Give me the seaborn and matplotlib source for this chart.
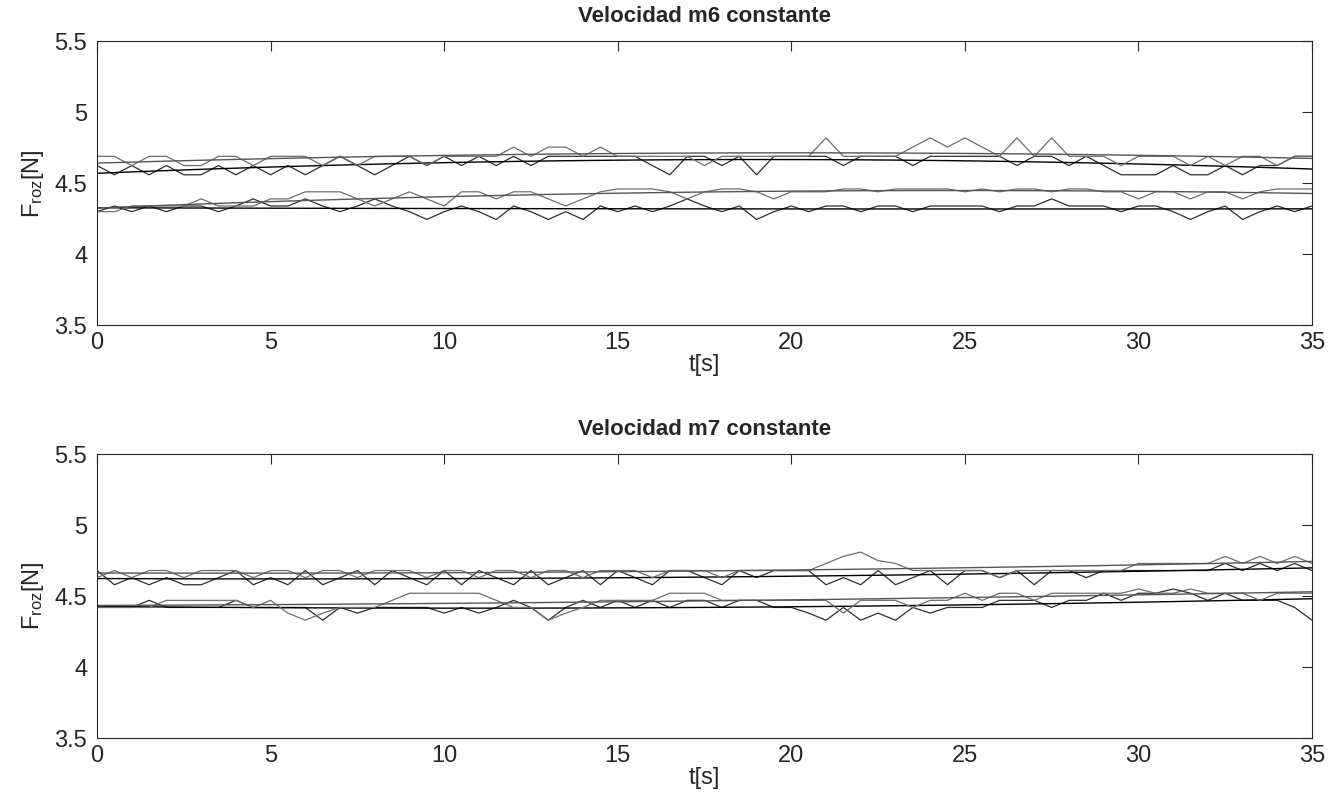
import numpy as np
import pandas as pd
import seaborn as sns
import matplotlib
matplotlib.use("Agg")
import matplotlib.pyplot as plt
from matplotlib.ticker import FormatStrFormatter

# sample times (s)
t = np.round(np.arange(0, 35.01, 0.5), 2)

# m6, upper band (dark trace)
m6_up_dark = [4.625, 4.56, 4.625, 4.56, 4.625, 4.56, 4.56, 4.625, 4.56, 4.625, 4.56,
              4.625, 4.56, 4.625, 4.69, 4.625, 4.56, 4.625, 4.69, 4.625, 4.69,
              4.625, 4.69, 4.625, 4.69, 4.625, 4.69, 4.69, 4.69, 4.69, 4.69,
              4.69, 4.625, 4.56, 4.69, 4.69, 4.625, 4.69, 4.56, 4.69, 4.69,
              4.69, 4.69, 4.625, 4.69, 4.69, 4.69, 4.625, 4.69, 4.69, 4.69,
              4.69, 4.69, 4.625, 4.69, 4.69, 4.625, 4.69, 4.625, 4.56, 4.56,
              4.56, 4.625, 4.56, 4.56, 4.625, 4.56, 4.625, 4.625, 4.69, 4.69]
# m6, upper band (grey trace)
m6_up_grey = [4.69, 4.69, 4.625, 4.69, 4.69, 4.625, 4.625, 4.69, 4.69, 4.625, 4.69,
              4.69, 4.69, 4.625, 4.69, 4.625, 4.69, 4.69, 4.69, 4.625, 4.69,
              4.69, 4.69, 4.69, 4.755, 4.69, 4.755, 4.755, 4.69, 4.755, 4.69,
              4.69, 4.69, 4.69, 4.69, 4.625, 4.69, 4.69, 4.69, 4.69, 4.69,
              4.69, 4.82, 4.69, 4.69, 4.69, 4.69, 4.755, 4.82, 4.755, 4.82,
              4.755, 4.69, 4.82, 4.69, 4.82, 4.69, 4.69, 4.69, 4.625, 4.69,
              4.69, 4.69, 4.625, 4.69, 4.625, 4.69, 4.69, 4.625, 4.69, 4.69]
# m6, lower band (dark trace)
m6_lo_dark = [4.30, 4.34, 4.30, 4.34, 4.30, 4.34, 4.34, 4.30, 4.34, 4.39, 4.34,
              4.34, 4.39, 4.34, 4.30, 4.34, 4.39, 4.34, 4.30, 4.245, 4.30,
              4.34, 4.30, 4.245, 4.34, 4.30, 4.245, 4.30, 4.245, 4.34, 4.30,
              4.34, 4.30, 4.34, 4.39, 4.34, 4.30, 4.34, 4.245, 4.30, 4.34,
              4.30, 4.34, 4.34, 4.30, 4.34, 4.34, 4.30, 4.34, 4.34, 4.34,
              4.34, 4.30, 4.34, 4.34, 4.39, 4.34, 4.34, 4.34, 4.30, 4.34,
              4.34, 4.30, 4.245, 4.30, 4.34, 4.245, 4.30, 4.34, 4.30, 4.34]
# m6, lower band (grey trace)
m6_lo_grey = [4.30, 4.30, 4.34, 4.34, 4.34, 4.34, 4.39, 4.34, 4.34, 4.34, 4.39,
              4.39, 4.44, 4.44, 4.44, 4.39, 4.34, 4.39, 4.44, 4.39, 4.34,
              4.44, 4.44, 4.39, 4.44, 4.44, 4.39, 4.34, 4.39, 4.44, 4.46,
              4.46, 4.46, 4.44, 4.39, 4.44, 4.46, 4.46, 4.44, 4.39, 4.44,
              4.44, 4.44, 4.46, 4.46, 4.44, 4.46, 4.46, 4.46, 4.46, 4.44,
              4.46, 4.44, 4.46, 4.46, 4.44, 4.46, 4.46, 4.44, 4.44, 4.39,
              4.44, 4.44, 4.39, 4.44, 4.44, 4.39, 4.44, 4.46, 4.46, 4.46]

# m7, upper band (dark trace)
m7_up_dark = [4.68, 4.58, 4.63, 4.58, 4.63, 4.58, 4.58, 4.63, 4.68, 4.58, 4.63,
              4.58, 4.68, 4.58, 4.63, 4.68, 4.58, 4.68, 4.63, 4.58, 4.68,
              4.58, 4.68, 4.63, 4.58, 4.68, 4.58, 4.63, 4.68, 4.58, 4.68,
              4.63, 4.58, 4.68, 4.68, 4.63, 4.58, 4.68, 4.63, 4.68, 4.68,
              4.68, 4.58, 4.63, 4.58, 4.68, 4.58, 4.63, 4.68, 4.58, 4.68,
              4.68, 4.63, 4.68, 4.58, 4.68, 4.68, 4.63, 4.68, 4.68, 4.68,
              4.68, 4.68, 4.68, 4.68, 4.73, 4.68, 4.73, 4.68, 4.73, 4.68]
# m7, upper band (grey trace)
m7_up_grey = [4.63, 4.68, 4.63, 4.68, 4.68, 4.63, 4.68, 4.68, 4.68, 4.63, 4.68,
              4.68, 4.63, 4.68, 4.68, 4.63, 4.68, 4.68, 4.68, 4.63, 4.68,
              4.68, 4.63, 4.68, 4.68, 4.63, 4.68, 4.68, 4.63, 4.68, 4.68,
              4.68, 4.63, 4.68, 4.68, 4.68, 4.63, 4.68, 4.68, 4.68, 4.68,
              4.68, 4.73, 4.78, 4.81, 4.75, 4.73, 4.68, 4.68, 4.68, 4.68,
              4.68, 4.63, 4.68, 4.68, 4.68, 4.68, 4.68, 4.68, 4.68, 4.73,
              4.73, 4.73, 4.73, 4.73, 4.78, 4.73, 4.78, 4.73, 4.78, 4.73]
# m7, lower band (dark trace)
m7_lo_dark = [4.42, 4.42, 4.42, 4.47, 4.42, 4.42, 4.42, 4.42, 4.47, 4.42, 4.42,
              4.42, 4.42, 4.33, 4.42, 4.38, 4.42, 4.42, 4.42, 4.42, 4.38,
              4.42, 4.38, 4.42, 4.47, 4.42, 4.33, 4.42, 4.47, 4.42, 4.47,
              4.42, 4.47, 4.42, 4.47, 4.47, 4.42, 4.47, 4.47, 4.42, 4.42,
              4.38, 4.33, 4.42, 4.33, 4.38, 4.33, 4.42, 4.38, 4.42, 4.42,
              4.42, 4.47, 4.47, 4.47, 4.42, 4.47, 4.47, 4.52, 4.47, 4.52,
              4.52, 4.55, 4.52, 4.47, 4.52, 4.47, 4.47, 4.47, 4.42, 4.33]
# m7, lower band (grey trace)
m7_lo_grey = [4.42, 4.42, 4.42, 4.42, 4.47, 4.47, 4.47, 4.47, 4.47, 4.42, 4.47,
              4.38, 4.33, 4.38, 4.42, 4.42, 4.42, 4.47, 4.52, 4.52, 4.52,
              4.52, 4.52, 4.47, 4.42, 4.42, 4.33, 4.38, 4.42, 4.47, 4.47,
              4.47, 4.47, 4.52, 4.52, 4.52, 4.47, 4.47, 4.47, 4.47, 4.47,
              4.47, 4.47, 4.38, 4.47, 4.47, 4.47, 4.42, 4.47, 4.47, 4.52,
              4.47, 4.52, 4.52, 4.47, 4.52, 4.52, 4.52, 4.52, 4.52, 4.55,
              4.52, 4.52, 4.55, 4.52, 4.52, 4.52, 4.47, 4.52, 4.52, 4.52]

titles = ["Velocidad m6 constante", "Velocidad m7 constante"]
x_ticks = [0, 5, 10, 15, 20, 25, 30, 35]
y_ticks = [3.5, 4, 4.5, 5, 5.5]

sns.set_style("white")
plt.rcParams["font.family"] = ["Liberation Sans", "DejaVu Sans"]
plt.rcParams["mathtext.default"] = "regular"

dark = "#2e2e2e"
grey = "#6e6e6e"

fig = plt.figure(figsize=(13.44, 8.11), dpi=100)
ax1 = fig.add_axes([0.0722, 0.599, 0.904, 0.350])
ax2 = fig.add_axes([0.0722, 0.090, 0.904, 0.350])


def draw(ax, series, title):
    for vals, col, fitcol in series:
        df = pd.DataFrame({"t": t, "F": vals})
        sns.lineplot(data=df, x="t", y="F", ax=ax, color=col, lw=0.9, estimator=None)
        # smooth fit of each trace
        sns.regplot(data=df, x="t", y="F", ax=ax, order=2, scatter=False, ci=None,
                    color=fitcol, line_kws={"lw": 1.0})
    ax.set_xlim(0, 35)
    ax.set_ylim(3.5, 5.5)
    ax.set_xticks(x_ticks)
    ax.set_yticks(y_ticks)
    ax.yaxis.set_major_formatter(FormatStrFormatter("%g"))
    ax.tick_params(direction="in", top=True, right=True, length=7, width=0.8,
                   colors="#262626", labelsize=17)
    ax.tick_params(axis="y", pad=7)
    ax.tick_params(axis="x", pad=5)
    for s in ax.spines.values():
        s.set_color("#262626")
        s.set_linewidth(0.8)
    ax.set_title(title, fontsize=16, fontweight="bold", pad=14)
    ax.set_xlabel("t[s]", fontsize=17, color="#262626", labelpad=0)
    ax.set_ylabel("$F_{roz}$[N]", fontsize=17, color="#262626", labelpad=6)


draw(ax1, [(m6_up_dark, dark, "black"), (m6_up_grey, grey, "#555555"),
           (m6_lo_dark, dark, "black"), (m6_lo_grey, grey, "#555555")], titles[0])
draw(ax2, [(m7_up_dark, dark, "black"), (m7_up_grey, grey, "#555555"),
           (m7_lo_dark, dark, "black"), (m7_lo_grey, grey, "#555555")], titles[1])

fig.savefig("out.png", dpi=100)
